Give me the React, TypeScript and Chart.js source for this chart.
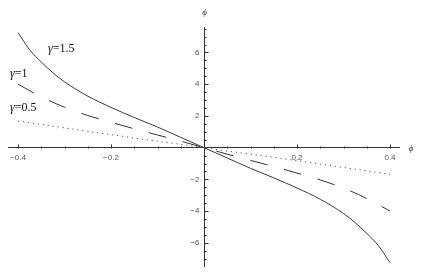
import React, { useEffect, useRef } from 'react';
import { Chart, registerables } from 'chart.js';

Chart.register(...registerables);

// x values (φ) for the γ = 1.5 curve (denser where it bends)
const phiSteep = [-0.4, -0.375, -0.35, -0.325, -0.3, -0.25, -0.2, -0.15, -0.1, -0.05, 0, 0.05, 0.1, 0.15, 0.2, 0.25, 0.3, 0.325, 0.35, 0.375, 0.4];
const gamma15 = [7.25, 6.17, 5.4, 4.72, 4.15, 3.25, 2.54, 1.9, 1.3, 0.65, 0, -0.65, -1.3, -1.9, -2.54, -3.25, -4.15, -4.72, -5.4, -6.17, -7.25];

// x values (φ) for the other two curves
const phi = [-0.4, -0.35, -0.3, -0.25, -0.2, -0.15, -0.1, -0.05, 0, 0.05, 0.1, 0.15, 0.2, 0.25, 0.3, 0.35, 0.4];
const gamma1 = [4.0, 3.2, 2.55, 2.03, 1.6, 1.19, 0.8, 0.41, 0, -0.41, -0.8, -1.19, -1.6, -2.03, -2.55, -3.2, -4.0];
const gamma05 = [1.68, 1.46, 1.25, 1.03, 0.82, 0.61, 0.41, 0.21, 0, -0.21, -0.41, -0.61, -0.82, -1.03, -1.25, -1.46, -1.68];

// axis ticks
const xTicks = [-0.4, -0.35, -0.3, -0.25, -0.2, -0.15, -0.1, -0.05, 0, 0.05, 0.1, 0.15, 0.2, 0.25, 0.3, 0.35, 0.4];
const xTickLabels: Record<string, string> = { '-0.4': '\u22120.4', '-0.2': '\u22120.2', '0.2': '0.2', '0.4': '0.4' };
const yTicks = [-7, -6.5, -6, -5.5, -5, -4.5, -4, -3.5, -3, -2.5, -2, -1.5, -1, -0.5, 0, 0.5, 1, 1.5, 2, 2.5, 3, 3.5, 4, 4.5, 5, 5.5, 6, 6.5, 7, 7.5];
const yTickLabels: Record<string, string> = { '-6': '\u22126', '-4': '\u22124', '-2': '\u22122', '2': '2', '4': '4', '6': '6' };

// curve labels
const curveLabels = [
  { greek: '\u03b3', rest: '=1.5', left: 48, mid: 49 },
  { greek: '\u03b3', rest: '=1', left: 10, mid: 74 },
  { greek: '\u03b3', rest: '=0.5', left: 10, mid: 108 },
];

const toPoints = (xs: number[], ys: number[]) => xs.map((x, i) => ({ x, y: ys[i] }));

const decorPlugin = {
  id: 'decor',
  afterDraw(chart: any) {
    const { ctx, scales } = chart;
    const xs = scales.x;
    const ys = scales.y;
    const y0 = Math.round(ys.getPixelForValue(0)) + 0.5;
    const x0 = Math.round(xs.getPixelForValue(0)) + 0.5;
    ctx.save();
    ctx.strokeStyle = '#333';
    ctx.lineWidth = 1;
    ctx.beginPath();
    xs.ticks.forEach((t: any) => {
      if (t.value === 0) return;
      const px = Math.round(xs.getPixelForValue(t.value)) + 0.5;
      const major = Math.abs(Math.round(t.value * 100) % 20) === 0;
      ctx.moveTo(px, y0);
      ctx.lineTo(px, y0 - (major ? 4 : 2));
    });
    ys.ticks.forEach((t: any) => {
      if (t.value === 0) return;
      const py = Math.round(ys.getPixelForValue(t.value)) + 0.5;
      const major = Math.round(t.value * 10) % 20 === 0;
      ctx.moveTo(x0, py);
      ctx.lineTo(x0 + (major ? 4 : 2), py);
    });
    ctx.stroke();

    // curve labels
    ctx.fillStyle = '#111';
    ctx.textBaseline = 'middle';
    ctx.textAlign = 'left';
    curveLabels.forEach((l) => {
      ctx.font = 'italic 12px "Liberation Serif"';
      ctx.fillText(l.greek, l.left, l.mid);
      const w = ctx.measureText(l.greek).width;
      ctx.font = '12px "Liberation Serif"';
      ctx.fillText(l.rest, l.left + w, l.mid);
    });

    // axis names
    ctx.font = 'italic 9px "Liberation Serif"';
    ctx.fillStyle = '#333';
    ctx.textAlign = 'center';
    ctx.fillText('\u03d5', x0, 13);
    ctx.fillText('\u03d5', 411, y0);
    ctx.restore();
  },
};

export default function App() {
  const ref = useRef<HTMLCanvasElement | null>(null);
  useEffect(() => {
    document.body.style.margin = '0';
    const canvas = ref.current;
    if (!canvas) return;
    const chart = new Chart(canvas, {
      type: 'line',
      data: {
        datasets: [
          {
            label: 'γ=1.5',
            data: toPoints(phiSteep, gamma15),
            borderColor: '#3a3a3a',
            borderWidth: 1,
            pointRadius: 0,
            cubicInterpolationMode: 'monotone',
            fill: false,
          },
          {
            label: 'γ=1',
            data: toPoints(phi, gamma1),
            borderColor: '#333',
            borderWidth: 1,
            borderDash: [18, 17],
            pointRadius: 0,
            cubicInterpolationMode: 'monotone',
            fill: false,
          },
          {
            label: 'γ=0.5',
            data: toPoints(phi, gamma05),
            borderColor: '#555',
            borderWidth: 1,
            borderDash: [1.2, 3.8],
            pointRadius: 0,
            cubicInterpolationMode: 'monotone',
            fill: false,
          },
        ],
      },
      options: {
        responsive: false,
        animation: false,
        events: [],
        layout: { padding: { left: 8.7, right: 23.7, top: 27.7, bottom: 13.3 } },
        plugins: { legend: { display: false }, tooltip: { enabled: false } },
        scales: {
          x: {
            type: 'linear',
            min: -0.42,
            max: 0.42,
            position: { y: 0 },
            afterBuildTicks: (s: any) => {
              s.ticks = xTicks.map((v) => ({ value: v }));
            },
            grid: { display: false, drawTicks: false },
            border: { display: true, color: '#333', width: 1 },
            ticks: {
              autoSkip: false,
              maxRotation: 0,
              padding: 5,
              color: '#555',
              font: { family: '"Liberation Sans"', size: 8 },
              callback: (v: any) => xTickLabels[String(Math.round(Number(v) * 100) / 100)] || '',
            },
          },
          y: {
            type: 'linear',
            min: -7.5,
            max: 7.56,
            position: { x: 0 },
            afterBuildTicks: (s: any) => {
              s.ticks = yTicks.map((v) => ({ value: v }));
            },
            grid: { display: false, drawTicks: false },
            border: { display: true, color: '#333', width: 1 },
            ticks: {
              autoSkip: false,
              color: '#555',
              font: { family: '"Liberation Sans"', size: 8 },
              callback: (v: any) => {
                const s = yTickLabels[String(v)];
                return s ? s + '  ' : '';
              },
            },
          },
        },
      },
      plugins: [decorPlugin],
    } as any);
    return () => chart.destroy();
  }, []);
  return (
    <div style={{ position: 'fixed', left: 0, top: 0, width: 423, height: 280, background: '#fff' }}>
      <canvas ref={ref} width={423} height={280} style={{ display: 'block' }} />
    </div>
  );
}
